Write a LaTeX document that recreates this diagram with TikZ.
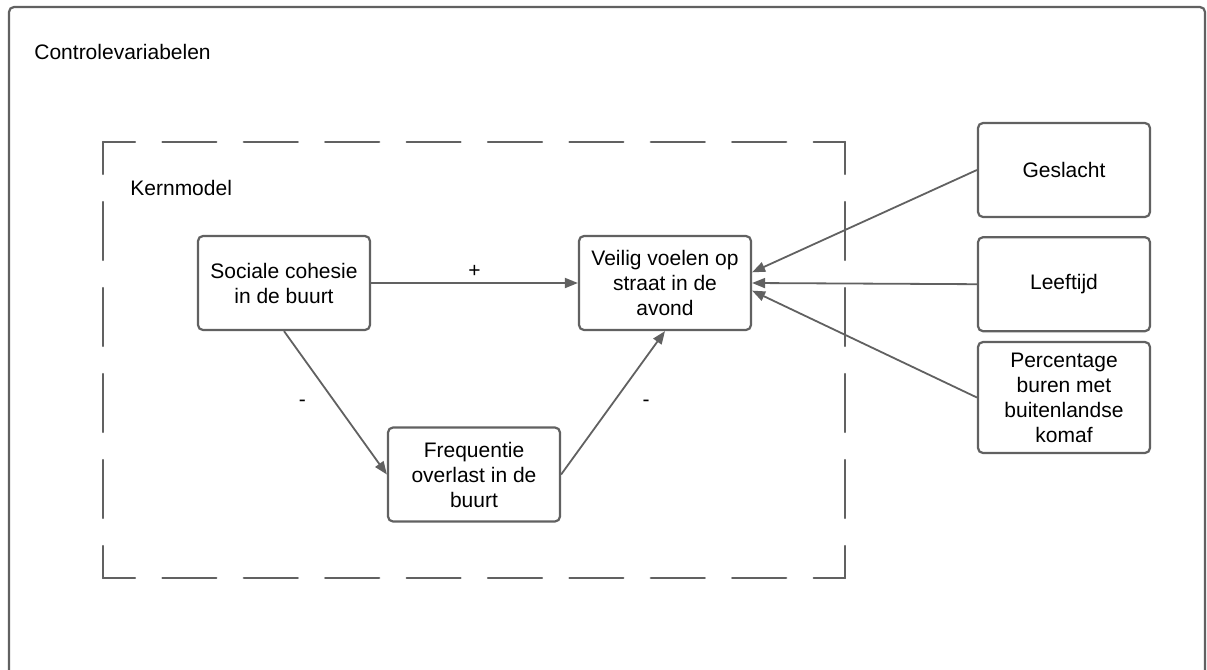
\documentclass[tikz,border=0pt]{standalone}
\usepackage{fontspec}
\setmainfont{Liberation Sans}
\usetikzlibrary{arrows.meta, positioning}

\begin{document}
\begin{tikzpicture}[
  x=0.5pt, y=-0.5pt,
  font=\fontsize{10.5}{12.5}\selectfont,
  box/.style={draw=black!62, line width=1.1pt, rounded corners=2.5pt, align=center,
    minimum width=86pt, minimum height=47pt, inner sep=3pt},
  arrow/.style={-{Triangle[length=6.5pt, width=5pt]}, draw=black!62, line width=0.9pt},
  frame/.style={draw=black!62, line width=1.1pt, rounded corners=2.5pt},
  dashside/.style={draw=black!62, line width=1.1pt, line cap=round}
]
\clip (0,0) rectangle (1207,670);
\draw[frame] (9,7) rectangle (1205,700);

\coordinate (k1) at (103,142);
\coordinate (k2) at (845,142);
\coordinate (k3) at (845,578);
\coordinate (k4) at (103,578);
\draw[dashside, dash pattern=on 27pt off 13.7pt, dash phase=11pt] (k1) -- (k2);
\draw[dashside, dash pattern=on 27pt off 13.7pt, dash phase=11pt] (k4) -- (k3);
\draw[dashside, dash pattern=on 29pt off 14pt, dash phase=13pt] (k1) -- (k4);
\draw[dashside, dash pattern=on 29pt off 14pt, dash phase=13pt] (k2) -- (k3);

\node[anchor=west, inner sep=0pt] (ctrl) at (34,52) {Controlevariabelen};
\node[anchor=west, inner sep=0pt] (kern) at (130,188) {Kernmodel};

\node[box] (soc) at (284,283) {Sociale cohesie\\in de buurt};
\node[box] (veilig) at (665,283) {Veilig voelen op\\straat in de\\avond};
\node[box] (freq) at (474,474.5) {Frequentie\\overlast in de\\buurt};

\node[box] (gesl) at (1064,170) {Geslacht};
\node[box, below=9pt of gesl] (leeft) {Leeftijd};
\node[box, minimum height=55.5pt] (perc) at (1064,397.5) {Percentage\\buren met\\buitenlandse\\komaf};

\draw[arrow] (soc.east) -- node[midway, yshift=6pt] {+} (veilig.west);
\draw[arrow] (soc.south) -- node[midway, xshift=-16.5pt] {-} (freq.west);
\draw[arrow] (freq.east) -- node[midway, xshift=16.5pt] {-} (veilig.south);

\draw[arrow] (gesl.west) -- (veilig.7);
\draw[arrow] (leeft.west) -- (veilig.east);
\draw[arrow] (perc.west) -- (veilig.-5);
\end{tikzpicture}
\end{document}
